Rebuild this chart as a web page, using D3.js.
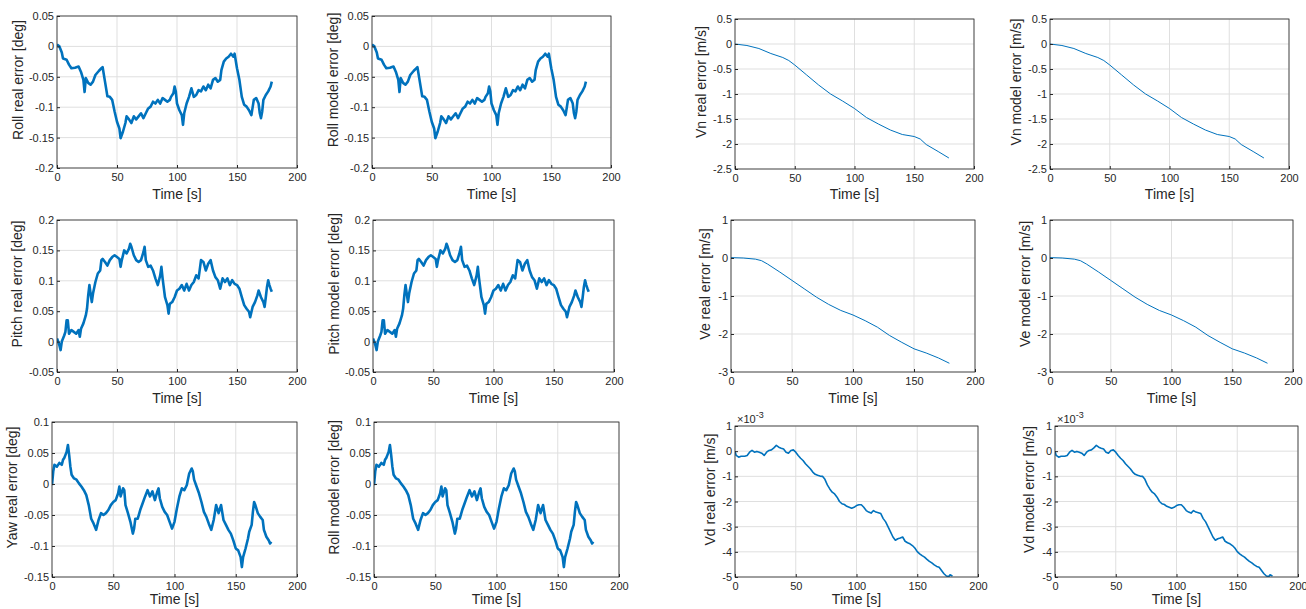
<html>
<head>
<script src="https://d3js.org/d3.v7.min.js"></script>
<style>
  body { margin: 0; background: #fff; }
  text { font-family: "Liberation Sans", Arial, Helvetica, sans-serif; fill: #262626; }
</style>
</head>
<body>
<svg id="fig" width="1306" height="609"></svg>
<script>
// ---- data: [time s, value] ----
const rollData = [[0,0.003],[2,0.0],[4,-0.01],[5,-0.02],[8,-0.022],[10,-0.03],[12,-0.036],[15,-0.035],[18,-0.033],[20,-0.042],[22,-0.055],[23,-0.075],[24,-0.052],[26,-0.06],[28,-0.063],[30,-0.058],[32,-0.047],[35,-0.04],[37,-0.036],[38,-0.034],[40,-0.058],[42,-0.082],[44,-0.083],[46,-0.088],[48,-0.107],[50,-0.124],[52,-0.135],[53,-0.151],[55,-0.14],[57,-0.126],[58,-0.115],[60,-0.12],[62,-0.126],[64,-0.115],[66,-0.12],[68,-0.115],[70,-0.11],[72,-0.118],[74,-0.11],[76,-0.102],[78,-0.099],[80,-0.091],[82,-0.094],[84,-0.088],[86,-0.094],[88,-0.085],[90,-0.088],[92,-0.091],[94,-0.088],[95,-0.083],[97,-0.077],[98,-0.066],[99,-0.074],[100,-0.094],[102,-0.105],[104,-0.113],[105,-0.129],[106,-0.11],[108,-0.094],[110,-0.083],[112,-0.069],[114,-0.083],[116,-0.08],[118,-0.072],[120,-0.074],[122,-0.066],[124,-0.072],[126,-0.063],[128,-0.069],[130,-0.055],[132,-0.052],[134,-0.058],[136,-0.055],[137,-0.039],[139,-0.025],[141,-0.02],[143,-0.017],[145,-0.012],[147,-0.017],[148,-0.012],[150,-0.036],[152,-0.055],[154,-0.083],[156,-0.096],[158,-0.099],[160,-0.105],[162,-0.113],[164,-0.088],[166,-0.085],[168,-0.094],[169,-0.11],[170,-0.118],[171,-0.107],[172,-0.088],[174,-0.08],[176,-0.074],[178,-0.066],[179,-0.058]];

const pitchData = [[0,0.005],[1,0],[2,-0.006],[3,-0.014],[4,0],[5,0.005],[6,0.01],[7,0.016],[8,0.035],[9,0.035],[10,0.013],[12,0.019],[14,0.016],[16,0.013],[18,0.019],[19,0.008],[20,0.021],[22,0.03],[24,0.043],[25,0.054],[26,0.076],[27,0.093],[28,0.079],[29,0.065],[30,0.079],[32,0.098],[34,0.112],[36,0.117],[37,0.134],[38,0.136],[40,0.131],[42,0.125],[44,0.134],[46,0.139],[48,0.142],[50,0.139],[52,0.136],[53,0.123],[54,0.134],[56,0.15],[58,0.145],[60,0.153],[61,0.161],[62,0.156],[64,0.142],[66,0.134],[68,0.131],[70,0.134],[72,0.147],[73,0.156],[74,0.134],[76,0.123],[78,0.125],[80,0.117],[82,0.104],[84,0.093],[86,0.109],[87,0.123],[88,0.104],[90,0.073],[92,0.06],[93,0.046],[94,0.062],[96,0.065],[98,0.073],[100,0.084],[102,0.087],[104,0.093],[106,0.084],[108,0.095],[110,0.084],[112,0.093],[114,0.098],[116,0.109],[118,0.104],[120,0.134],[122,0.131],[124,0.117],[126,0.128],[128,0.134],[130,0.117],[132,0.106],[134,0.101],[136,0.087],[138,0.104],[140,0.098],[142,0.104],[144,0.093],[146,0.101],[148,0.095],[150,0.093],[152,0.087],[154,0.073],[156,0.06],[158,0.054],[160,0.049],[161,0.04],[163,0.057],[165,0.065],[167,0.076],[168,0.084],[170,0.073],[172,0.065],[173,0.057],[174,0.073],[175,0.09],[176,0.101],[177,0.093],[178,0.087],[179,0.082]];

const yawData = [[0,-0.002],[1,0.02],[2,0.031],[4,0.028],[6,0.034],[8,0.031],[9,0.039],[10,0.042],[11,0.047],[12,0.052],[13,0.063],[14,0.047],[15,0.028],[16,0.015],[18,0.009],[20,0.007],[22,0.001],[24,-0.004],[26,-0.01],[28,-0.018],[30,-0.034],[32,-0.056],[34,-0.064],[36,-0.074],[37,-0.066],[38,-0.058],[40,-0.047],[42,-0.05],[44,-0.047],[46,-0.042],[48,-0.034],[50,-0.029],[52,-0.026],[54,-0.015],[55,-0.004],[56,-0.02],[58,-0.007],[59,-0.01],[60,-0.034],[62,-0.047],[64,-0.061],[66,-0.08],[67,-0.072],[68,-0.056],[70,-0.056],[72,-0.042],[74,-0.031],[76,-0.02],[78,-0.01],[80,-0.02],[82,-0.012],[84,-0.026],[86,-0.012],[87,-0.007],[88,-0.023],[90,-0.037],[92,-0.045],[94,-0.05],[96,-0.061],[98,-0.072],[100,-0.061],[102,-0.039],[104,-0.02],[106,-0.007],[108,-0.01],[110,-0.002],[112,0.017],[114,0.025],[115,0.02],[116,0.007],[118,-0.004],[120,-0.015],[122,-0.029],[124,-0.045],[126,-0.053],[128,-0.064],[130,-0.074],[132,-0.058],[134,-0.034],[136,-0.047],[138,-0.034],[140,-0.058],[142,-0.066],[144,-0.074],[146,-0.08],[148,-0.091],[150,-0.104],[152,-0.107],[154,-0.118],[155,-0.134],[156,-0.118],[158,-0.104],[160,-0.088],[161,-0.077],[163,-0.066],[164,-0.045],[165,-0.029],[166,-0.034],[168,-0.047],[170,-0.053],[172,-0.058],[173,-0.074],[175,-0.085],[177,-0.091],[178,-0.096],[179,-0.093]];

const vnData = [[0,0],[10,-0.03],[20,-0.09],[30,-0.19],[40,-0.27],[45,-0.33],[50,-0.42],[60,-0.62],[70,-0.82],[80,-1.0],[90,-1.14],[100,-1.29],[110,-1.47],[120,-1.6],[130,-1.72],[140,-1.81],[150,-1.85],[155,-1.9],[160,-2.01],[170,-2.15],[179,-2.28]];

const veData = [[0,0.01],[10,0.0],[20,-0.03],[25,-0.07],[30,-0.16],[40,-0.37],[50,-0.59],[60,-0.81],[70,-1.03],[80,-1.22],[90,-1.38],[100,-1.5],[110,-1.65],[120,-1.82],[130,-2.04],[140,-2.22],[150,-2.39],[160,-2.5],[170,-2.63],[179,-2.77]];

// Vd in units of 1e-3 m/s
const vdData = [[0,0],[1,-0.17],[3,-0.24],[5,-0.2],[8,-0.2],[10,-0.17],[12,-0.04],[14,0.03],[16,-0.04],[18,-0.01],[20,-0.04],[22,-0.08],[24,-0.17],[26,-0.04],[28,0.03],[30,0.05],[32,0.13],[34,0.23],[36,0.16],[38,0.12],[40,0.09],[42,-0.04],[44,-0.08],[46,0.03],[48,0.05],[50,-0.04],[52,-0.17],[54,-0.28],[56,-0.37],[58,-0.5],[60,-0.6],[62,-0.7],[64,-0.83],[66,-0.92],[68,-0.96],[70,-0.99],[72,-1.0],[74,-1.12],[76,-1.34],[78,-1.5],[80,-1.63],[82,-1.7],[84,-1.83],[86,-2.0],[88,-2.09],[90,-2.12],[92,-2.19],[94,-2.23],[96,-2.27],[98,-2.23],[100,-2.16],[102,-2.13],[104,-2.13],[106,-2.23],[108,-2.36],[110,-2.42],[112,-2.46],[114,-2.36],[116,-2.42],[118,-2.45],[120,-2.48],[122,-2.68],[124,-2.81],[126,-3.01],[128,-3.21],[130,-3.41],[132,-3.54],[134,-3.48],[136,-3.45],[138,-3.41],[140,-3.58],[142,-3.64],[144,-3.68],[146,-3.75],[148,-3.85],[150,-3.99],[152,-4.08],[154,-4.15],[156,-4.21],[158,-4.3],[160,-4.38],[162,-4.44],[164,-4.52],[166,-4.58],[168,-4.61],[170,-4.74],[172,-4.87],[174,-4.96],[176,-4.98],[177,-4.91],[179,-4.96]];

// tick labels
const timeTicks = [0, 50, 100, 150, 200];
const rollTicks = [-0.2, -0.15, -0.1, -0.05, 0, 0.05];
const pitchTicks = [-0.05, 0, 0.05, 0.1, 0.15, 0.2];
const yawTicks = [-0.15, -0.1, -0.05, 0, 0.05, 0.1];
const vnTicks = [-2.5, -2, -1.5, -1, -0.5, 0, 0.5];
const veTicks = [-3, -2, -1, 0, 1];
const vdTicks = [-5, -4, -3, -2, -1, 0, 1];

const blue = "#0072BD";
const ink = "#262626";

// box = [left, top, right, bottom]; lx = distance of the y label from the axis; xl = x label baseline below axis
const panels = [
  {box:[57,16,297,168],   data:rollData,  ticks:rollTicks,  label:"Roll real error [deg]",   lx:39, xl:31, w:2.6},
  {box:[372,16,611,168],  data:rollData,  ticks:rollTicks,  label:"Roll model error [deg]",  lx:39, xl:31, w:2.6},
  {box:[735,19,974,169],  data:vnData,    ticks:vnTicks,    label:"Vn real error [m/s]",     lx:34, xl:30, w:1},
  {box:[1050,19,1289,169],data:vnData,    ticks:vnTicks,    label:"Vn model error [m/s]",    lx:34, xl:30, w:1},
  {box:[57,220,297,372],  data:pitchData, ticks:pitchTicks, label:"Pitch real error [deg]",  lx:40, xl:31, w:2.6},
  {box:[373,220,614,372], data:pitchData, ticks:pitchTicks, label:"Pitch model error [deg]", lx:39, xl:31, w:2.6},
  {box:[731,220,975,372], data:veData,    ticks:veTicks,    label:"Ve real error [m/s]",     lx:26, xl:31, w:1},
  {box:[1050,220,1293,372],data:veData,   ticks:veTicks,    label:"Ve model error [m/s]",    lx:25, xl:31, w:1},
  {box:[52,422,297,577],  data:yawData,   ticks:yawTicks,   label:"Yaw real error [deg]",    lx:40, xl:27, w:2.6},
  {box:[374,422,619,577], data:yawData,   ticks:yawTicks,   label:"Roll model error [deg]",  lx:40, xl:27, w:2.6},
  {box:[735,426,978,577], data:vdData,    ticks:vdTicks,    label:"Vd real error [m/s]",     lx:25, xl:27, w:1.6, exp:true},
  {box:[1055,426,1298,577],data:vdData,   ticks:vdTicks,    label:"Vd model error [m/s]",    lx:26, xl:27, w:1.6, exp:true}
];

const svg = d3.select("svg#fig");
const fmt = v => String(+v.toFixed(3));

panels.forEach((p, i) => {
  const [l, t, r, b] = p.box;
  const x = d3.scaleLinear().domain([0, 200]).range([l, r]);
  const y = d3.scaleLinear().domain(d3.extent(p.ticks)).range([b, t]);
  const g = svg.append("g");

  // grid
  g.selectAll("line.gx").data(timeTicks).join("line")
    .attr("x1", d => x(d)).attr("x2", d => x(d)).attr("y1", t).attr("y2", b)
    .attr("stroke", "#dfdfdf").attr("stroke-width", 1);
  g.selectAll("line.gy").data(p.ticks).join("line")
    .attr("y1", d => y(d)).attr("y2", d => y(d)).attr("x1", l).attr("x2", r)
    .attr("stroke", "#dfdfdf").attr("stroke-width", 1);

  // line
  svg.append("clipPath").attr("id", "c" + i)
    .append("rect").attr("x", l).attr("y", t).attr("width", r - l).attr("height", b - t);
  g.append("path").datum(p.data)
    .attr("clip-path", `url(#c${i})`)
    .attr("fill", "none").attr("stroke", blue).attr("stroke-width", p.w)
    .attr("stroke-linejoin", "round")
    .attr("d", d3.line().x(d => x(d[0])).y(d => y(d[1])));

  // axes
  const ax = g.append("g").attr("transform", `translate(0,${b})`)
    .call(d3.axisBottom(x).tickValues(timeTicks).tickFormat(fmt).tickSizeInner(-3).tickSizeOuter(0).tickPadding(5));
  const ay = g.append("g").attr("transform", `translate(${l},0)`)
    .call(d3.axisLeft(y).tickValues(p.ticks).tickFormat(fmt).tickSizeInner(-3).tickSizeOuter(0).tickPadding(3));
  [ax, ay].forEach(a => {
    a.select(".domain").remove();
    a.selectAll(".tick line").attr("stroke", ink);
    a.selectAll("text").attr("font-size", 11).attr("fill", ink)
      .attr("font-family", '"Liberation Sans", Arial, sans-serif');
  });

  g.append("rect").attr("x", l).attr("y", t).attr("width", r - l).attr("height", b - t)
    .attr("fill", "none").attr("stroke", ink).attr("stroke-width", 0.8);

  // labels
  g.append("text").attr("x", (l + r) / 2).attr("y", b + p.xl)
    .attr("text-anchor", "middle").attr("font-size", 14).text("Time [s]");
  g.append("text")
    .attr("transform", `translate(${l - p.lx},${(t + b) / 2 - 12}) rotate(-90)`)
    .attr("text-anchor", "middle").attr("dominant-baseline", "central")
    .attr("font-size", 14).text(p.label);

  if (p.exp) {
    const e = g.append("text").attr("x", l + 2).attr("y", t - 3).attr("font-size", 11);
    e.append("tspan").text("\u00d710");
    e.append("tspan").attr("dy", -5).attr("font-size", 9).text("-3");
  }
});
</script>
</body>
</html>
